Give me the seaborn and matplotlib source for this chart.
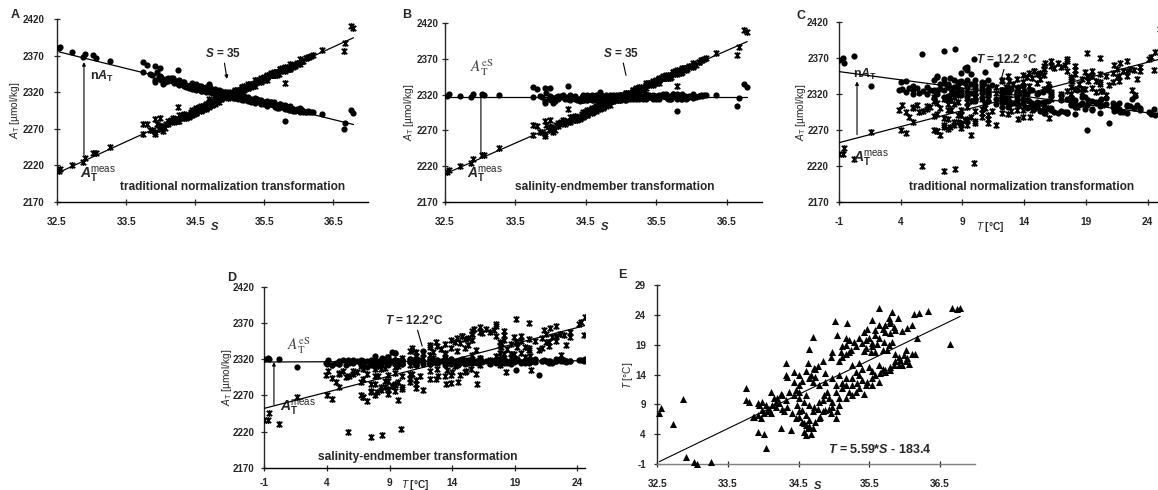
import numpy as np
import pandas as pd
import matplotlib
matplotlib.use("Agg")
import matplotlib.pyplot as plt
from matplotlib.path import Path
import seaborn as sns

# ---- station data (S from A/B/E, T from C/D/E, A_T from A/C) ----
salinity = [
    32.53, 32.55, 32.72, 32.87, 32.90, 33.02, 33.06, 33.26,
    33.75, 33.75, 33.80, 33.92, 33.99, 34.04, 34.08, 34.13, 33.87, 33.92, 33.97, 34.01,
    34.11, 34.15, 34.25, 34.32, 34.22, 34.27, 34.34, 34.44, 34.51, 34.60,
    34.48, 34.55, 34.41, 34.51, 34.60, 34.65, 34.58, 34.63, 34.60, 34.67,
    34.77, 34.70, 34.81, 34.74, 34.88, 34.96, 34.98, 35.03, 34.25, 34.39,
    33.92, 34.01, 34.04, 34.79, 34.86, 35.03, 35.12, 34.74, 34.30, 34.18,
    34.11, 34.91, 34.93, 34.84, 35.03, 35.07, 34.98, 35.17, 35.12, 35.21,
    35.31, 35.43, 35.26, 35.33, 35.40, 35.47, 35.54, 35.64, 35.26, 35.36,
    35.40, 35.31, 35.50, 35.54, 35.64, 35.69, 35.73, 35.80, 35.85, 36.06,
    35.97, 34.33, 34.63, 34.77, 34.72, 34.33, 34.34, 34.60, 34.67, 34.87,
    34.44, 34.55, 34.51, 34.65, 35.12, 35.10, 35.17, 35.24, 34.96, 35.43,
    35.52, 35.59, 35.69, 35.61, 35.54, 35.92, 36.00, 36.04, 36.11, 36.15,
    34.71, 35.05, 35.17, 35.28, 35.43, 35.47, 35.59, 35.64, 35.73, 35.80,
    35.87, 35.36, 35.45, 35.83, 35.78, 36.18, 35.02, 35.19, 35.54, 35.78,
    35.80, 35.91, 36.13, 36.20, 36.11, 36.04, 35.97, 35.64, 35.82, 36.34,
    36.67, 36.75, 36.79, 36.65,
    33.85, 33.99, 34.06, 33.94, 34.18, 34.20, 34.27, 34.37, 34.46, 34.51,
    34.58, 34.65, 34.72, 34.51, 34.46, 34.55, 34.60, 34.65, 34.70, 34.58,
    34.79, 34.84, 34.93, 35.05, 35.07, 35.17, 35.26, 35.36, 35.45, 35.54,
    35.59, 35.66, 35.73, 35.80, 35.87, 35.94, 36.02, 35.92, 35.36, 35.26,
    35.17, 35.07, 34.98, 34.79, 34.88, 34.70, 34.65, 34.51, 34.44, 34.74,
    35.07, 35.12, 35.21, 35.31, 35.40, 35.50, 35.59, 35.69, 35.73, 35.80,
    35.85, 35.64, 35.71, 35.54, 35.45, 35.76, 35.87, 36.02, 35.21, 35.17,
    34.98, 34.84,
]
temperature = [
    7.5, 8.4, 5.7, 9.9, 0.2, -0.7, -1.0, -0.6,
    11.7, 9.7, 9.4, 9.2, 9.4, 8.9, 8.3, 8.9, 6.9, 7.2, 6.7, 7.5,
    11.1, 10.0, 10.8, 9.7, 9.2, 8.3, 8.6, 10.6, 10.0, 10.6,
    8.9, 8.1, 7.5, 6.9, 7.2, 6.4, 5.8, 5.0, 3.9, 4.1,
    8.3, 7.8, 6.9, 6.1, 8.1, 7.5, 8.6, 6.7, 5.0, 4.7,
    4.4, 4.0, 1.6, 9.4, 10.6, 12.2, 12.5, 13.6, 7.8, 8.6,
    7.5, 11.1, 10.0, 9.7, 11.1, 10.0, 9.4, 12.2, 11.7, 11.1,
    11.1, 10.8, 13.4, 12.5, 13.1, 12.8, 13.4, 12.7, 15.6, 15.9,
    15.0, 14.4, 15.3, 14.6, 15.6, 15.0, 14.4, 14.8, 15.6, 15.7,
    15.6, 16.0, 15.9, 15.5, 15.1, 13.9, 13.5, 14.6, 14.0, 14.2,
    12.7, 12.9, 12.2, 18.3, 18.7, 17.8, 17.5, 18.1, 17.0, 17.9,
    17.8, 17.8, 18.1, 19.1, 18.7, 17.0, 17.3, 16.7, 17.5, 17.5,
    20.3, 20.6, 20.2, 19.5, 21.2, 21.7, 21.5, 22.3, 21.2, 20.9,
    21.5, 20.1, 19.8, 19.5, 18.9, 20.1, 23.0, 22.7, 23.1, 23.4,
    22.9, 23.4, 24.1, 24.3, 22.3, 21.8, 21.3, 25.2, 24.5, 24.6,
    25.1, 25.0, 25.1, 19.1,
    6.9, 8.0, 7.8, 8.9, 9.4, 10.0, 10.6, 11.1, 11.4, 11.1,
    9.4, 8.9, 8.6, 7.8, 6.7, 6.1, 5.5, 5.3, 5.0, 4.4,
    6.7, 7.8, 8.3, 7.8, 8.9, 10.0, 10.6, 11.7, 12.2, 12.2,
    13.9, 14.2, 14.8, 15.3, 16.2, 16.4, 16.2, 15.6, 13.9, 12.2,
    13.4, 13.9, 13.4, 12.2, 12.8, 12.8, 13.4, 13.9, 14.5, 15.0,
    16.2, 17.0, 17.8, 18.7, 19.2, 20.1, 20.6, 21.7, 22.3, 22.6,
    22.0, 20.1, 19.5, 19.2, 18.4, 18.1, 17.5, 18.1, 19.8, 18.9,
    17.8, 16.2,
]
alkalinity = [
    2212, 2215, 2220, 2224, 2230, 2236, 2236, 2245,
    2277, 2263, 2276, 2283, 2285, 2272, 2277, 2279, 2268, 2262, 2270, 2274,
    2280, 2282, 2300, 2288, 2283, 2281, 2290, 2293, 2296, 2299,
    2290, 2297, 2286, 2292, 2300, 2302, 2296, 2301, 2298, 2304,
    2306, 2311, 2307, 2303, 2311, 2313, 2318, 2316, 2281, 2288,
    2265, 2270, 2267, 2309, 2312, 2318, 2322, 2305, 2285, 2281,
    2276, 2313, 2315, 2310, 2320, 2317, 2314, 2325, 2321, 2324,
    2330, 2335, 2328, 2330, 2334, 2338, 2341, 2344, 2326, 2333,
    2335, 2331, 2340, 2342, 2346, 2348, 2349, 2352, 2355, 2362,
    2359, 2286, 2300, 2307, 2303, 2287, 2285, 2298, 2302, 2311,
    2292, 2296, 2293, 2302, 2323, 2320, 2324, 2327, 2315, 2337,
    2340, 2343, 2347, 2344, 2341, 2357, 2360, 2362, 2366, 2368,
    2305, 2318, 2324, 2328, 2336, 2338, 2343, 2345, 2349, 2332,
    2355, 2333, 2337, 2352, 2350, 2370, 2318, 2325, 2340, 2351,
    2353, 2357, 2368, 2371, 2366, 2363, 2360, 2346, 2353, 2378,
    2387, 2410, 2408, 2376,
    2268, 2274, 2271, 2277, 2284, 2279, 2288, 2285, 2296, 2291,
    2301, 2298, 2308, 2297, 2289, 2299, 2295, 2304, 2300, 2294,
    2310, 2306, 2316, 2315, 2323, 2321, 2331, 2329, 2339, 2337,
    2346, 2343, 2352, 2349, 2358, 2356, 2365, 2354, 2336, 2325,
    2327, 2316, 2319, 2304, 2314, 2306, 2297, 2298, 2288, 2302,
    2322, 2319, 2329, 2327, 2337, 2336, 2345, 2344, 2352, 2355,
    2351, 2348, 2345, 2343, 2334, 2353, 2352, 2359, 2323, 2327,
    2312, 2312,
]

S_REF = 35.0
s_ticks = [32.5, 33.5, 34.5, 35.5, 36.5]
t_ticks = [-1, 4, 9, 14, 19, 24]
at_ticks = [2170, 2220, 2270, 2320, 2370, 2420]
te_ticks = [-1, 4, 9, 14, 19, 24, 29]

df = pd.DataFrame({"S": salinity, "T": temperature, "AT": alkalinity})
df["nAT"] = df["AT"] * S_REF / df["S"]
slope_s = np.polyfit(df["S"], df["AT"], 1)[0]
df["ATeS"] = df["AT"] + slope_s * (S_REF - df["S"])

sns.set_style("ticks")
plt.rcParams["font.family"] = ["Liberation Sans", "DejaVu Sans"]
plt.rcParams.update({
    "mathtext.fontset": "custom",
    "mathtext.rm": "Liberation Sans",
    "mathtext.it": "Liberation Sans:italic",
    "mathtext.bf": "Liberation Sans:bold",
    "mathtext.bfit": "Liberation Sans:italic:bold",
    "axes.linewidth": 1.0,
})

W, H = 1158, 490
fig = plt.figure(figsize=(W / 100, H / 100), dpi=100)


def add_ax(left, right, top, bottom):
    return fig.add_axes([left / W, 1 - bottom / H, (right - left) / W, (bottom - top) / H])


def fx(x):
    return x / W


def fy(y):
    return 1 - y / H


star = Path([(-1, -1), (1, 1), (-1, 1), (1, -1), (0, -1.25), (0, 1.25)],
            [Path.MOVETO, Path.LINETO] * 3)


def style(ax, xticks, yticks, xfmt, xlim, ylim, xpad, ypad, bottom_color="black"):
    sns.despine(ax=ax)
    ax.set_xlim(*xlim)
    ax.set_ylim(*ylim)
    ax.set_xticks(xticks, labels=[xfmt(v) for v in xticks], fontsize=7.3, fontweight="bold")
    ax.set_yticks(yticks, labels=[str(v) for v in yticks], fontsize=7, fontweight="bold")
    ax.tick_params(axis="x", direction="inout", length=4.5, width=0.9, pad=xpad)
    ax.tick_params(axis="y", direction="inout", length=4.5, width=0.9, pad=ypad)
    ax.set_xlabel("")
    ax.set_ylabel("")
    ax.spines["bottom"].set_color(bottom_color)


def at_panel(ax, xcol, ycol):
    sns.scatterplot(data=df, x=xcol, y=ycol, ax=ax, marker="o", s=20, color="black",
                    edgecolor="black", linewidth=0, zorder=3)
    sns.scatterplot(data=df, x=xcol, y="AT", ax=ax, marker=star, s=24, color="black",
                    edgecolor="black", linewidth=1.25, zorder=3)
    for col in ("AT", ycol):
        sns.regplot(data=df, x=xcol, y=col, ax=ax, scatter=False, ci=None, truncate=True,
                    color="black", line_kws={"lw": 0.9, "zorder": 4})


arrow = dict(arrowstyle="-|>", color="black", lw=0.8, mutation_scale=5, shrinkA=0, shrinkB=0)
line_only = dict(arrowstyle="-", color="black", lw=0.8, shrinkA=0, shrinkB=0)
meas_lbl = r"$\mathbfit{A}_{\mathbf{T}}^{\mathrm{meas}}$"
nat_lbl = r"n$\mathbfit{A}_{\mathbf{T}}$"
eS_lbl = r"$A_{\mathrm{T}}^{\mathrm{eS}}$"
ylab = r"$\mathit{A}_{\mathrm{T}}$ [µmol/kg]"
tlab = r"$\mathit{T}$ [°C]"
slab = r"$\mathbfit{S}$"
title_kw = dict(fontsize=8.6, fontweight="bold", ha="center", va="center")

# ---------------- Panel A ----------------
axA = add_ax(57, 368, 19, 201.7)
at_panel(axA, "S", "nAT")
style(axA, s_ticks, at_ticks, lambda v: f"{v:.1f}", (32.5, 37.0), (2170, 2420), 8.5, 7)
axA.annotate("", xy=(32.89, 2361), xytext=(32.89, 2234), arrowprops=arrow)
axA.text(32.98, 2341, nat_lbl, fontsize=9, fontweight="bold", va="center")
axA.text(32.83, 2207, meas_lbl, fontsize=10, va="center")
axA.annotate(r"$\mathbfit{S}$ = 35", xy=(34.96, 2338), xytext=(34.9, 2373), fontsize=8.5,
             fontweight="bold", ha="center", va="center", arrowprops=arrow)
axA.text(0.565, 0.08, "traditional normalization transformation", transform=axA.transAxes,
         **title_kw)

# ---------------- Panel B ----------------
axB = add_ax(445, 762, 23.3, 201.7)
at_panel(axB, "S", "ATeS")
style(axB, s_ticks, at_ticks, lambda v: f"{v:.1f}", (32.5, 37.0), (2170, 2420), 8.5, 2.5)
axB.annotate("", xy=(33.01, 2322), xytext=(33.01, 2235), arrowprops=line_only)
axB.text(33.03, 2358, eS_lbl, fontsize=11, color="#444444", ha="center", va="center",
         math_fontfamily="stix")
axB.text(32.81, 2207, meas_lbl, fontsize=10, va="center")
axB.annotate(r"$\mathbfit{S}$ = 35", xy=(35.07, 2347), xytext=(35.0, 2378), fontsize=8.5,
             fontweight="bold", ha="center", va="center", arrowprops=line_only)
axB.text(0.534, 0.08, "salinity-endmember transformation", transform=axB.transAxes,
         **title_kw)

# ---------------- Panel C ----------------
axC = add_ax(839, 1160, 21.7, 201.7)
at_panel(axC, "T", "nAT")
style(axC, t_ticks, at_ticks, str, (-1, 25), (2170, 2420), 8.5, 5)
axC.annotate("", xy=(0.46, 2337), xytext=(0.46, 2263), arrowprops=arrow)
axC.text(0.1, 2347, nat_lbl, fontsize=9, fontweight="bold", va="center")
axC.text(0.15, 2230, meas_lbl, fontsize=10, va="center")
axC.annotate(r"$\mathbfit{T}$ = 12.2 °C", xy=(12.1, 2338), xytext=(12.6, 2368), fontsize=8.5,
             fontweight="bold", ha="center", va="center", arrowprops=line_only)
axC.text(0.57, 0.08, "traditional normalization transformation", transform=axC.transAxes,
         **title_kw)

# ---------------- Panel D ----------------
axD = add_ax(264.3, 585, 286.7, 467.7)
at_panel(axD, "T", "ATeS")
style(axD, t_ticks, at_ticks, str, (-1, 24.6), (2170, 2420), 5, 5)
axD.annotate("", xy=(-0.23, 2316), xytext=(-0.23, 2257), arrowprops=arrow)
axD.text(1.8, 2339, eS_lbl, fontsize=11, color="#444444", ha="center", va="center",
         math_fontfamily="stix")
axD.text(0.25, 2253, meas_lbl, fontsize=10, va="center")
axD.annotate(r"$\mathbfit{T}$ = 12.2°C", xy=(11.6, 2338), xytext=(11.0, 2374), fontsize=8.5,
             fontweight="bold", ha="center", va="center", arrowprops=line_only)
axD.text(0.48, 0.06, "salinity-endmember transformation", transform=axD.transAxes,
         **title_kw)

# ---------------- Panel E ----------------
axE = add_ax(657.3, 975, 285, 464)
sns.scatterplot(data=df, x="S", y="T", ax=axE, marker="^", s=26, color="black",
                edgecolor="black", linewidth=0, zorder=3, clip_on=False)
sns.regplot(data=df, x="S", y="T", ax=axE, scatter=False, ci=None, truncate=True,
            color="black", line_kws={"lw": 0.8, "zorder": 4})
style(axE, s_ticks, te_ticks, lambda v: f"{v:.1f}", (32.5, 37.0), (-1, 29), 8.5, 6,
      bottom_color="#7f7f7f")
axE.text(0.70, 0.08, r"$\mathbfit{T}$ = 5.59*$\mathbfit{S}$ - 183.4", transform=axE.transAxes,
         fontsize=9, fontweight="bold", ha="center", va="center")

# ---------------- axis titles & panel letters ----------------
for xpix, ypix in [(15, 110), (409, 112), (801, 112), (227, 377)]:
    fig.text(fx(xpix), fy(ypix), ylab, rotation=90, fontsize=7.3, ha="center", va="center")
fig.text(fx(628), fy(375), tlab, rotation=90, fontsize=7.3, ha="center", va="center")

for xpix, ypix in [(215, 220), (605, 220), (818, 479)]:
    fig.text(fx(xpix), fy(ypix), slab, fontsize=8, ha="center", va="top")
for xpix, ypix in [(990, 220), (415, 478)]:
    fig.text(fx(xpix), fy(ypix), tlab, fontsize=7.3, fontweight="bold", ha="center", va="top")

for letter, xpix, ypix in [("A", 15, 15), ("B", 407, 15), ("C", 801, 16), ("D", 232, 278),
                           ("E", 622, 275)]:
    fig.text(fx(xpix), fy(ypix), letter, fontsize=9, fontweight="bold", ha="center", va="center")

fig.savefig("out.png", dpi=100)
